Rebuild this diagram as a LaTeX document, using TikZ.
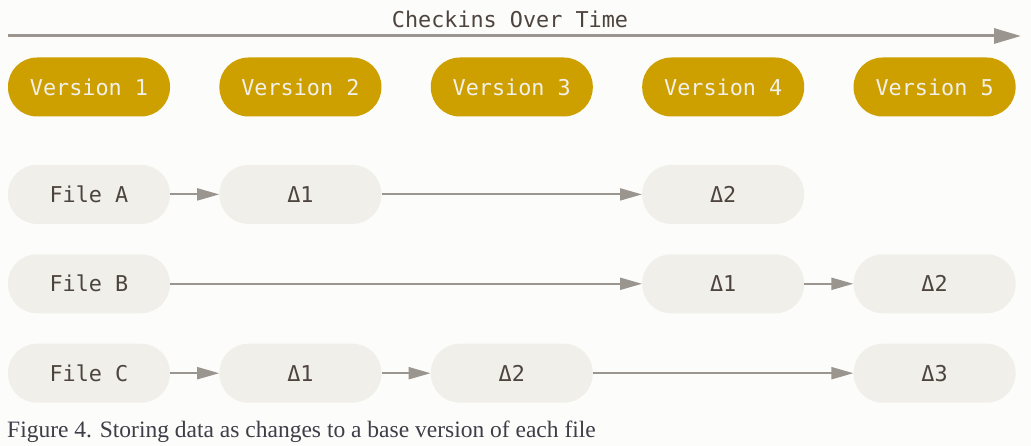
\documentclass[tikz,border=0pt]{standalone}
\usepackage{fontspec}
\setmainfont{Liberation Serif}
\setmonofont{DejaVu Sans Mono}
\usetikzlibrary{positioning,arrows.meta}

\definecolor{bgcol}{RGB}{252,252,250}
\definecolor{versionfill}{RGB}{205,160,0}
\definecolor{versiontext}{RGB}{242,240,234}
\definecolor{filefill}{RGB}{240,239,233}
\definecolor{filetext}{RGB}{78,68,62}
\definecolor{arrowgray}{RGB}{155,149,143}
\definecolor{captiontext}{RGB}{62,62,72}

\begin{document}
\begin{tikzpicture}[x=1pt, y=-1pt,
			versionnode/.style={rectangle, rounded corners=29pt, fill=versionfill, text=versiontext, minimum width=162pt, minimum height=59pt, font=\ttfamily\fontsize{21.8}{26}\selectfont},
			filenode/.style={rectangle, rounded corners=29pt, fill=filefill, text=filetext, minimum width=162pt, minimum height=59pt, font=\ttfamily\fontsize{21.8}{26}\selectfont},
			deltaarrow/.style={draw=arrowgray, line width=2pt, -{Triangle[length=22pt,width=12pt]}},
			timeline/.style={draw=arrowgray, line width=3pt, -{Triangle[length=27pt,width=15pt]}},
			]
			%Background
			\fill[bgcol] (0,0) rectangle (1031,446);

			%Timeline
			\coordinate (tstart) at (8,36);
			\coordinate (tend) at (1021,36);
			\draw[timeline] (tstart) -- (tend);
			\node[font=\ttfamily\fontsize{21.8}{26}\selectfont, text=filetext] (title) at (510,19) {Checkins Over Time};

			%Versions
			\node[versionnode] (v1) at (89,87) {Version 1};
			\node[versionnode] (v2) [right=49pt of v1] {Version 2};
			\node[versionnode] (v3) [right=49pt of v2] {Version 3};
			\node[versionnode] (v4) [right=49pt of v3] {Version 4};
			\node[versionnode] (v5) [right=49pt of v4] {Version 5};

			%Files
			\node[filenode] (fa) [below=48pt of v1] {File A};
			\node[filenode] (fb) [below=30pt of fa] {File B};
			\node[filenode] (fc) [below=30pt of fb] {File C};

			%Deltas
			\node[filenode] (a2) at (v2 |- fa) {Δ1};
			\node[filenode] (a4) at (v4 |- fa) {Δ2};
			\node[filenode] (b4) at (v4 |- fb) {Δ1};
			\node[filenode] (b5) at (v5 |- fb) {Δ2};
			\node[filenode] (c2) at (v2 |- fc) {Δ1};
			\node[filenode] (c3) at (v3 |- fc) {Δ2};
			\node[filenode] (c5) at (v5 |- fc) {Δ3};

			%Arrows
			\draw[deltaarrow] (fa) -- (a2);
			\draw[deltaarrow] (a2) -- (a4);
			\draw[deltaarrow] (fb) -- (b4);
			\draw[deltaarrow] (b4) -- (b5);
			\draw[deltaarrow] (fc) -- (c2);
			\draw[deltaarrow] (c2) -- (c3);
			\draw[deltaarrow] (c3) -- (c5);

			%Caption
			\node[anchor=base west, inner sep=0pt, font=\fontsize{23.5}{28}\selectfont, text=captiontext] (caption) at (7,437) {Figure 4. Storing data as changes to a base version of each file};
		\end{tikzpicture}
\end{document}
